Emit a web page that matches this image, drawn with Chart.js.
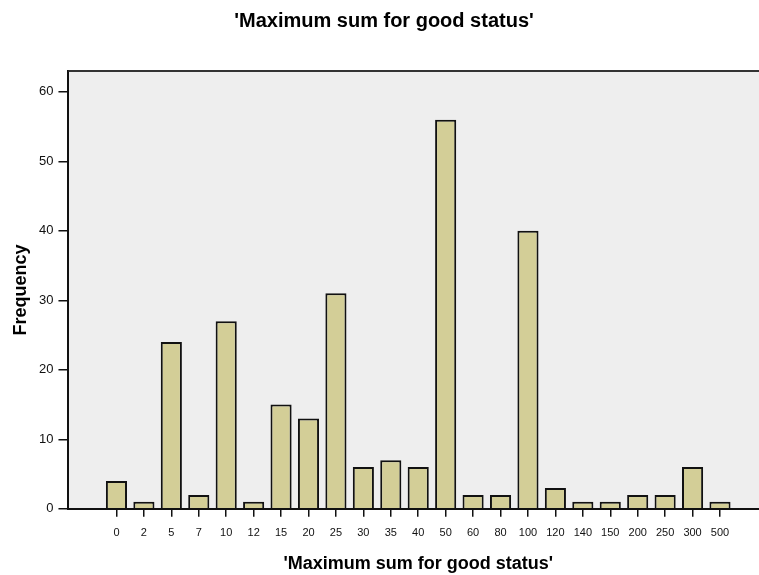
<!DOCTYPE html>
<html>
<head>
<meta charset="utf-8">
<script src="https://cdn.jsdelivr.net/npm/chart.js@4/dist/chart.umd.min.js"></script>
<style>
  html, body { margin: 0; padding: 0; background: #fff; overflow: hidden; }
  #wrap { width: 768px; height: 575px; }
</style>
</head>
<body>
<div id="wrap"><canvas id="myChart" width="768" height="575"></canvas></div>
<script>
// categories of 'Maximum sum for good status'
var categories = ['0', '2', '5', '7', '10', '12', '15', '20', '25', '30', '35', '40',
    '50', '60', '80', '100', '120', '140', '150', '200', '250', '300', '500'];
var frequencies = [4, 1, 24, 2, 27, 1, 15, 13, 31, 6, 7, 6,
    56, 2, 2, 40, 3, 1, 1, 2, 2, 6, 1];
var yTicks = [0, 10, 20, 30, 40, 50, 60];

// plot background and top frame line
var frame = {
    id: 'frame',
    beforeDraw: function (chart) {
        var a = chart.chartArea, c = chart.ctx;
        c.save();
        c.fillStyle = '#eeeeee';
        c.fillRect(a.left, a.top, a.right - a.left, a.bottom - a.top);
        c.restore();
    },
    afterDraw: function (chart) {
        var a = chart.chartArea, c = chart.ctx;
        c.save();
        c.strokeStyle = '#333';
        c.lineWidth = 2;
        c.beginPath();
        c.moveTo(a.left, a.top);
        c.lineTo(a.right, a.top);
        c.stroke();
        c.restore();
    }
};

var ctx = document.getElementById('myChart').getContext('2d');
var myChart = new Chart(ctx, {
    type: 'bar',
    data: {
        datasets: [{
            label: 'Frequency',
            data: frequencies.map(function (v, i) { return { x: i, y: v }; }),
            backgroundColor: '#d3ce97',
            borderColor: '#111',
            borderWidth: 2,
            barPercentage: 0.77,
            categoryPercentage: 1
        }]
    },
    options: {
        responsive: false,
        animation: false,
        layout: { padding: 0 },
        plugins: {
            legend: { display: false },
            tooltip: { enabled: false },
            title: {
                display: true,
                text: "'Maximum sum for good status'",
                color: '#000',
                font: { size: 20, weight: 'bold', family: 'Liberation Sans' },
                padding: { top: 9, bottom: 38 }
            }
        },
        scales: {
            x: {
                type: 'linear',
                offset: false,
                min: -1.75,
                max: 23.75,
                afterBuildTicks: function (scale) {
                    scale.ticks = categories.map(function (c, i) { return { value: i }; });
                },
                ticks: {
                    color: '#111',
                    padding: 10,
                    maxRotation: 0,
                    autoSkip: false,
                    font: { size: 11, family: 'Liberation Sans' },
                    callback: function (v) { return categories[v]; }
                },
                grid: {
                    offset: false,
                    drawOnChartArea: false,
                    drawTicks: true,
                    tickLength: 8,
                    color: '#111',
                    lineWidth: 1.5
                },
                border: { display: true, color: '#111', width: 2 },
                title: {
                    display: true,
                    text: "'Maximum sum for good status'",
                    color: '#000',
                    font: { size: 18, weight: 'bold', family: 'Liberation Sans' },
                    padding: { top: 3.4, bottom: 0 }
                }
            },
            y: {
                min: 0,
                max: 63,
                afterBuildTicks: function (scale) {
                    scale.ticks = yTicks.map(function (v) { return { value: v }; });
                },
                ticks: {
                    color: '#111',
                    padding: 5,
                    font: { size: 13, family: 'Liberation Sans' }
                },
                grid: {
                    drawOnChartArea: false,
                    drawTicks: true,
                    tickLength: 10,
                    color: '#111',
                    lineWidth: 1.5
                },
                border: { display: true, color: '#111', width: 2 },
                title: {
                    display: true,
                    text: 'Frequency',
                    color: '#000',
                    font: { size: 18, weight: 'bold', family: 'Liberation Sans' },
                    padding: { top: 10, bottom: 2.4 }
                }
            }
        }
    },
    plugins: [frame]
});
</script>
</body>
</html>
